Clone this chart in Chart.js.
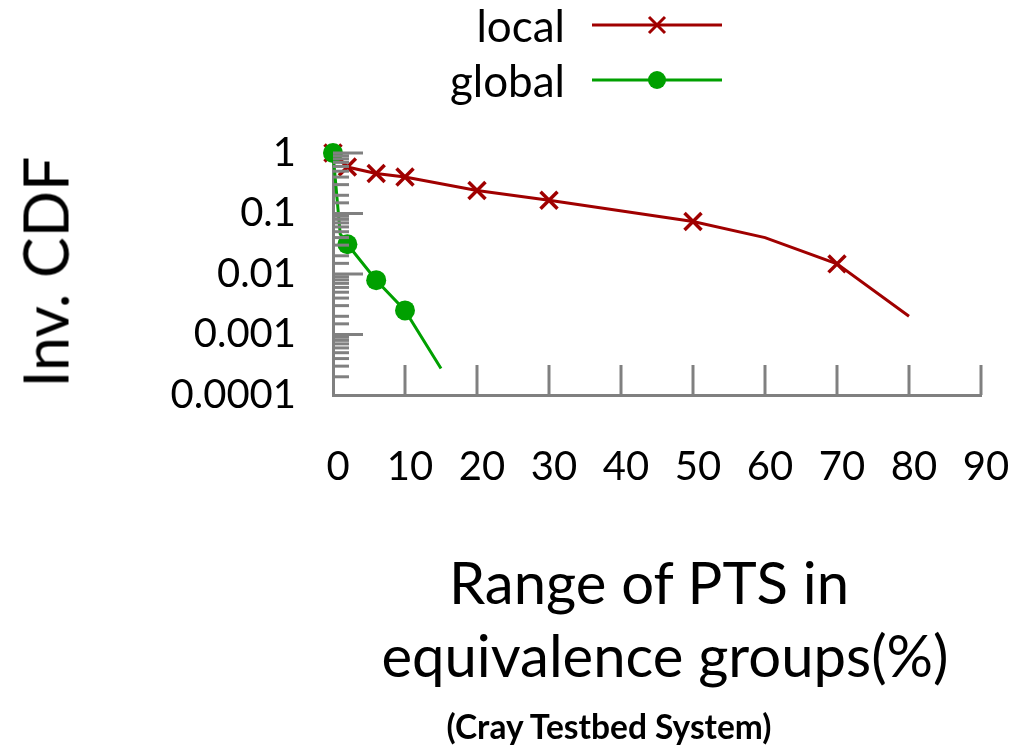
<!DOCTYPE html>
<html>
<head>
<meta charset="utf-8">
<script src="https://cdn.jsdelivr.net/npm/chart.js@4"></script>
<style>
  body { margin: 0; background: #fff; }
  #wrap { position: relative; width: 1033px; height: 751px; font-family: Lato, sans-serif; color: #000; }
  .txt { position: absolute; white-space: nowrap; transform: translate(-50%, -50%); line-height: 1; }
  #ytitle { left: 45px; top: 272px; font-size: 61px; transform: translate(-50%, -50%) rotate(-90deg); }
  #xt1 { left: 649px; top: 582px; font-size: 58px; }
  #xt2 { left: 665px; top: 655px; font-size: 58px; }
  #sub { left: 609px; top: 727px; font-size: 33.5px; font-weight: bold; }
</style>
</head>
<body>
<div id="wrap">
  <canvas id="cdf" width="1033" height="751"></canvas>
  <div class="txt" id="ytitle">Inv. CDF</div>
  <div class="txt" id="xt1">Range of PTS in</div>
  <div class="txt" id="xt2">equivalence groups(%)</div>
  <div class="txt" id="sub">(Cray Testbed System)</div>
</div>
<script>
// values
const localX = [0, 2, 6, 10, 20, 30, 50, 60, 70, 80];
const localY = [1, 0.585, 0.46, 0.40, 0.24, 0.165, 0.0735, 0.04, 0.0147, 0.002];
const localMarked = [true, true, true, true, true, true, true, false, true, false];

const globalX = [0, 1, 2, 6, 10, 15];
const globalY = [1, 0.046, 0.031, 0.0079, 0.0025, 0.000275];
const globalMarked = [true, false, true, true, true, false];

const xTicks = [0, 10, 20, 30, 40, 50, 60, 70, 80, 90];
const yTicks = [1, 0.1, 0.01, 0.001, 0.0001];
const yTickLabels = ["1", "0.1", "0.01", "0.001", "0.0001"];

const RED = "#a00000";
const GREEN = "#00a000";
const GRAY = "#808080";

function toPoints(xs, ys) {
  return xs.map((x, i) => ({ x: x, y: ys[i] }));
}

// inward tick marks + legend
const decorations = {
  id: "decorations",
  afterDraw(chart) {
    const ctx = chart.ctx;
    const xs = chart.scales.x;
    const ys = chart.scales.y;
    const area = chart.chartArea;

    ctx.save();
    ctx.strokeStyle = GRAY;
    ctx.lineWidth = 3;
    ctx.lineCap = "butt";

    xs.ticks.forEach(t => {
      if (t.value === 0) return;
      const px = xs.getPixelForValue(t.value);
      ctx.beginPath();
      ctx.moveTo(px, area.bottom);
      ctx.lineTo(px, area.bottom - 30);
      ctx.stroke();
    });

    ys.ticks.forEach(t => {
      const py = ys.getPixelForValue(t.value);
      const lg = Math.log10(t.value);
      const major = Math.abs(lg - Math.round(lg)) < 1e-9;
      if (t.value <= ys.min) return;
      ctx.beginPath();
      ctx.moveTo(area.left, py);
      ctx.lineTo(area.left + (major ? 30 : 16), py);
      ctx.stroke();
    });

    // legend
    ctx.font = "44px Lato";
    ctx.fillStyle = "#000";
    ctx.textAlign = "right";
    ctx.textBaseline = "middle";
    const rows = [
      { label: chart.data.datasets[1].label, y: 25, color: RED, style: "cross" },
      { label: chart.data.datasets[0].label, y: 80, color: GREEN, style: "dot" }
    ];
    rows.forEach(r => {
      ctx.fillText(r.label, 565, r.y + 3);
      ctx.strokeStyle = r.color;
      ctx.lineWidth = 3;
      ctx.beginPath();
      ctx.moveTo(592, r.y);
      ctx.lineTo(722, r.y);
      ctx.stroke();
      if (r.style === "cross") {
        const s = 8;
        ctx.beginPath();
        ctx.moveTo(657 - s, r.y - s); ctx.lineTo(657 + s, r.y + s);
        ctx.moveTo(657 + s, r.y - s); ctx.lineTo(657 - s, r.y + s);
        ctx.stroke();
      } else {
        ctx.fillStyle = r.color;
        ctx.beginPath();
        ctx.arc(657, r.y, 9, 0, Math.PI * 2);
        ctx.fill();
        ctx.fillStyle = "#000";
      }
    });
    ctx.restore();
  }
};

new Chart(document.getElementById("cdf"), {
  type: "line",
  data: {
    datasets: [
      {
        label: "global",
        data: toPoints(globalX, globalY),
        borderColor: GREEN,
        backgroundColor: GREEN,
        borderWidth: 3,
        pointStyle: "circle",
        pointRadius: globalMarked.map(m => m ? 10 : 0),
        pointBorderWidth: 0,
        tension: 0,
        clip: false,
        order: 0
      },
      {
        label: "local",
        data: toPoints(localX, localY),
        borderColor: RED,
        backgroundColor: RED,
        borderWidth: 3,
        pointStyle: "crossRot",
        pointRadius: localMarked.map(m => m ? 12 : 0),
        pointBorderWidth: 3.5,
        tension: 0,
        clip: false,
        order: 1
      }
    ]
  },
  options: {
    responsive: false,
    animation: false,
    layout: { padding: { left: 153, top: 153, right: 52, bottom: 256 } },
    plugins: { legend: { display: false }, tooltip: { enabled: false } },
    scales: {
      x: {
        type: "linear",
        min: 0,
        max: 90,
        afterBuildTicks(scale) { scale.ticks = xTicks.map(v => ({ value: v })); },
        afterFit(scale) {
          scale.height = 100;
          scale.paddingLeft = 0;
          scale.paddingRight = 0;
        },
        grid: { display: false, drawTicks: false },
        border: { display: true, color: GRAY, width: 3 },
        ticks: {
          color: "#000",
          font: { family: "Lato", size: 40 },
          padding: 48,
          labelOffset: 5,
          maxRotation: 0,
          autoSkip: false
        }
      },
      y: {
        type: "logarithmic",
        min: 0.0001,
        max: 1,
        afterFit(scale) { scale.width = 180; },
        grid: { display: false, drawTicks: false },
        border: { display: true, color: GRAY, width: 3 },
        ticks: {
          color: "#000",
          font: { family: "Lato", size: 40 },
          padding: 37,
          autoSkip: false,
          callback(value) {
            const i = yTicks.findIndex(t => Math.abs(t - value) < t * 1e-6);
            return i >= 0 ? yTickLabels[i] : "";
          }
        }
      }
    }
  },
  plugins: [decorations]
});
</script>
</body>
</html>
